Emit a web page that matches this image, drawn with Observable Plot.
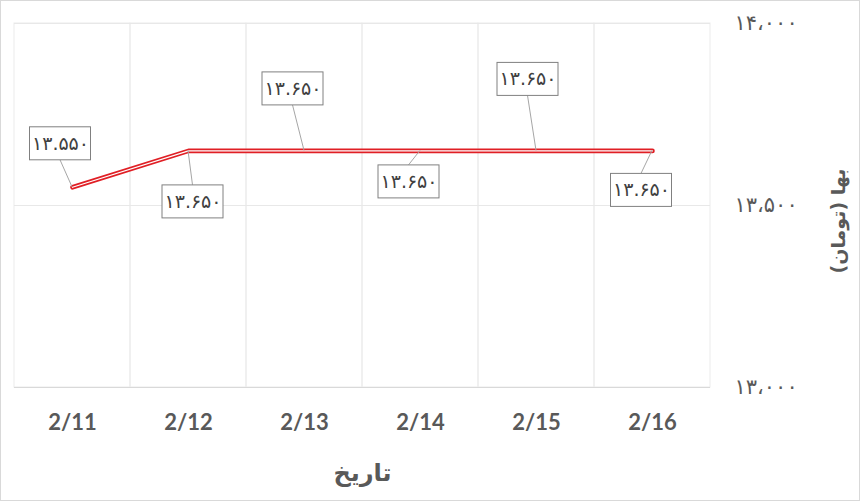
<!DOCTYPE html>
<html><head><meta charset="utf-8">
<script src="https://cdn.jsdelivr.net/npm/d3@7"></script>
<script src="https://cdn.jsdelivr.net/npm/@observablehq/plot@0.6"></script>
<style>
body{margin:0;background:#fff;}
#chart svg{display:block; outline:1px solid #d9d9d9; outline-offset:-1px;}
</style></head><body><div id="chart"></div>
<script>
const dates = ["2/11","2/12","2/13","2/14","2/15","2/16"];
const prices = [13550,13650,13650,13650,13650,13650];
const yTicks = [13000,13500,14000];
const yTitle = "بها (تومان)";
const xTitle = "تاریخ";
// data label offsets (px) of each label box centre from its point
const labelDx = [-12, 4.5, -11.5, -11.5, -8.5, -11];
const labelDy = [-43.5, 51, -62, 31, -71.5, 39.5];

const fa = s => String(s).replace(/\d/g, d => "۰۱۲۳۴۵۶۷۸۹"[d]);
const fmtTick = v => fa(d3.format(",")(v)).replace(",", "،");
const fmtLabel = v => fa(d3.format(",")(v)).replace(",", ".");

const data = dates.map((d, i) => ({date: d, price: prices[i], dx: labelDx[i], dy: labelDy[i]}));

const labelMarks = data.map(d => Plot.text([d], {
  x: "date", y: "price", text: r => fmtLabel(r.price),
  dx: d.dx, dy: d.dy, fontSize: 19, fill: "#404040",
  fontFamily: "DejaVu Sans", ariaLabel: () => "data-label"
}));

const plot = Plot.plot({
  width: 860, height: 501,
  marginLeft: 14, marginRight: 150, marginTop: 23, marginBottom: 114,
  style: {fontFamily: "DejaVu Sans", color: "#595959", background: "#fff"},
  x: {type: "band", domain: dates, padding: 0},
  y: {domain: [13000, 14000]},
  marks: [
    Plot.barY(dates, {x: d => d, y1: 13000, y2: 14000, fill: "none", stroke: "#ebebeb"}),
    Plot.ruleY(yTicks, {stroke: "#e8e8e8"}),
    Plot.ruleY([13000], {stroke: "#d9d9d9"}),
    Plot.axisX({tickSize: 0, tickPadding: 27, fontSize: 22, fontWeight: "bold",
      fontFamily: "Lato", fill: "#595959", label: null}),
    Plot.axisY({anchor: "right", ticks: yTicks, tickFormat: fmtTick, tickSize: 0, tickPadding: 24,
      fontSize: 21, fill: "#595959", label: null}),
    Plot.lineY(data, {x: "date", y: "price", stroke: "#e01f25", strokeWidth: 4.6}),
    Plot.lineY(data, {x: "date", y: "price", stroke: "#ffffff", strokeWidth: 1.2}),
    ...labelMarks,
    Plot.text([yTitle], {frameAnchor: "right", dx: 128, dy: -37, rotate: -90, fontSize: 19,
      fontWeight: "bold", fill: "#595959"}),
    Plot.text([xTitle], {frameAnchor: "bottom", lineAnchor: "middle", dy: 86, fontSize: 24,
      fontWeight: "bold", fill: "#595959"})
  ]
});
document.getElementById("chart").append(plot);

// boxes and leader lines for data labels, positioned with Plot's scales
const sx = plot.scale("x"), sy = plot.scale("y");
const svg = d3.select(plot);
const g = svg.append("g");
const bw = 61, bh = 33;
data.forEach(d => {
  const px = sx.apply(d.date) + (sx.bandwidth || 0) / 2;
  const py = sy.apply(d.price);
  const cx = px + d.dx, cy = py + d.dy;
  const ey = d.dy < 0 ? cy + bh / 2 : cy - bh / 2;
  g.append("line").attr("x1", px).attr("y1", py).attr("x2", cx).attr("y2", ey)
    .attr("stroke", "#a6a6a6").attr("stroke-width", 1);
  g.append("rect").attr("x", cx - bw / 2).attr("y", cy - bh / 2).attr("width", bw).attr("height", bh)
    .attr("fill", "#fff").attr("stroke", "#808080").attr("stroke-width", 1);
});
// bring the label texts above their boxes
svg.selectAll('text[aria-label="data-label"]').each(function () { d3.select(this.parentNode).raise(); });
</script></body></html>
